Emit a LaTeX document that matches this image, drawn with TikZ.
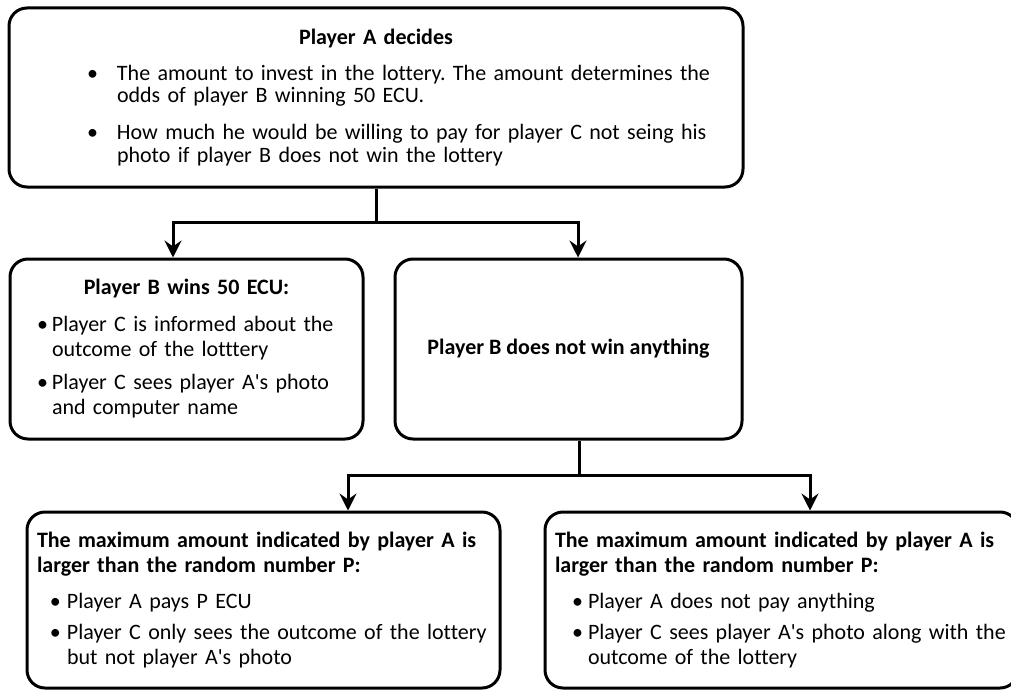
\documentclass[tikz,border=0pt]{standalone}
\usepackage{fontspec}
\setmainfont{Carlito}[Ligatures=NoCommon]
\usepackage{tikz}
\usetikzlibrary{arrows.meta,positioning}

\newcommand{\bitem}[3]{\par\leftskip=#1\hangindent=#2\hangafter=1\noindent\makebox[#2][l]{\textbullet}#3}
\newcommand{\apos}{\textquotesingle}

\begin{document}
\frenchspacing
\begin{tikzpicture}[
    x=1pt, y=-1pt,
    box/.style={draw, line width=3pt, rounded corners=18pt, align=left, inner xsep=10pt, inner ysep=0pt, font=\fontsize{22}{25}\selectfont},
    link/.style={line width=3pt},
    arrow/.style={link, -{Stealth[length=17pt, width=17pt, inset=6pt]}}
]
\useasboundingbox (0,0) rectangle (1011,690);

\node[box, minimum width=734pt, minimum height=179pt, text width=714pt, font=\fontsize{22}{22.5}\selectfont] (decide) at (376,97.5) {%
    {\centering\bfseries Player A decides\par}\vspace{13.5pt}%
    \bitem{68pt}{30pt}{The amount to invest in the lottery. The amount determines the\newline odds of player B winning 50 ECU.}\par\vspace{14.5pt}%
    \bitem{68pt}{30pt}{How much he would be willing to pay for player C not seing his\newline photo if player B does not win the lottery}\par};

\node[box, minimum width=353pt, minimum height=180pt, text width=333pt] (win) at (186.5,349) {%
    {\centering\bfseries Player B wins 50 ECU:\par}\vspace{12pt}%
    \bitem{17pt}{15pt}{Player C is informed about the\newline outcome of the lotttery}\par\vspace{8pt}%
    \bitem{17pt}{15pt}{Player C sees player A\apos s photo\newline and computer name}\par};

\node[box, minimum width=347pt, minimum height=180pt, align=center] (nowin) at (568.5,349) {\bfseries Player B does not win anything};

\node[box, minimum width=473pt, minimum height=176pt, text width=453pt] (pays) at (263.5,600) {%
    {\bfseries The maximum amount indicated by player A is\newline larger than the random number P:\par}\vspace{11pt}%
    \bitem{13pt}{17pt}{Player A pays P ECU}\par\vspace{6pt}%
    \bitem{13pt}{17pt}{Player C only sees the outcome of the lottery\newline but not player A\apos s photo}\par};

\node[box, minimum width=473pt, minimum height=176pt, text width=453pt] (nopay) at (781.5,600) {%
    {\bfseries The maximum amount indicated by player A is\newline larger than the random number P:\par}\vspace{11pt}%
    \bitem{17pt}{16pt}{Player A does not pay anything}\par\vspace{6pt}%
    \bitem{17pt}{16pt}{Player C sees player A\apos s photo along with the\newline outcome of the lottery}\par};

\coordinate (fork1) at (376,222);
\coordinate (fork2) at (579,475);

\draw[link] (decide.south) -- (fork1);
\draw[arrow] (fork1) -| ([xshift=-13.5pt]win.north);
\draw[arrow] (fork1) -| ([xshift=9.5pt]nowin.north);

\draw[link] ([xshift=10.5pt]nowin.south) -- (fork2);
\draw[arrow] (fork2) -| ([xshift=84.5pt]pays.north);
\draw[arrow] (fork2) -| ([xshift=28.5pt]nopay.north);

\end{tikzpicture}
\end{document}
